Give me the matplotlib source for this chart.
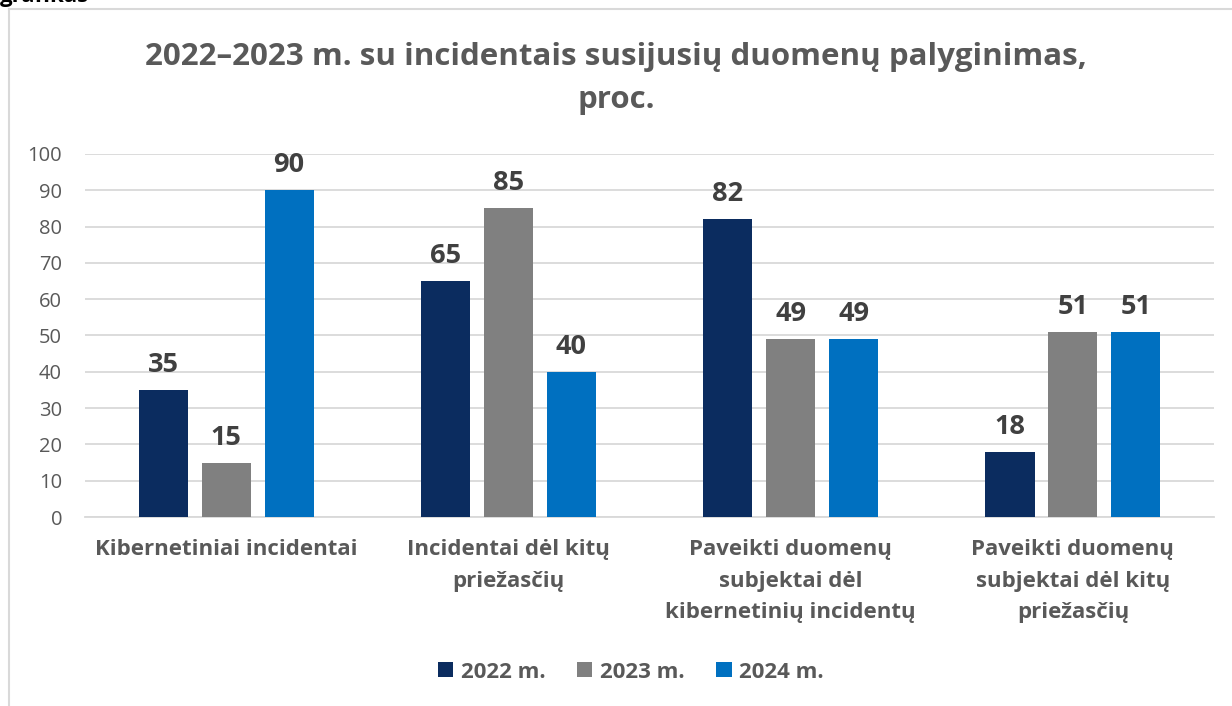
import matplotlib.pyplot as plt
import numpy as np

plt.rcParams['font.family'] = ['Open Sans', 'DejaVu Sans']

title_lines = ['2022–2023 m. su incidentais susijusių duomenų palyginimas,', 'proc.']
categories = ['Kibernetiniai incidentai', 'Incidentai dėl kitų\npriežasčių',
              'Paveikti duomenų\nsubjektai dėl\nkibernetinių incidentų',
              'Paveikti duomenų\nsubjektai dėl kitų\npriežasčių']
series_names = ['2022 m.', '2023 m.', '2024 m.']
values_2022 = [35, 65, 82, 18]
values_2023 = [15, 85, 49, 51]
values_2024 = [90, 40, 49, 51]
colors = ['#0B2C5F', '#808080', '#0070C0']

fig = plt.figure(figsize=(12.32, 7.06), dpi=100)
ax = fig.add_axes([0.069, 0.2677, 0.9164, 0.5142])

x = np.arange(len(categories))
width = 0.174
step = 0.223
all_vals = [values_2022, values_2023, values_2024]
handles = []
for i, vals in enumerate(all_vals):
    rects = ax.bar(x + (i - 1) * step, vals, width, color=colors[i], label=series_names[i], zorder=3)
    handles.append(rects)
    for r in rects:
        ax.text(r.get_x() + r.get_width() / 2, r.get_height() + 3.3, '%d' % r.get_height(),
                ha='center', va='bottom', fontsize=19.5, fontweight='bold', color='#404040')

ax.set_xlim(-0.5, len(categories) - 0.5)
ax.set_ylim(0, 100)
ax.set_yticks(range(0, 101, 10))
ax.grid(axis='y', color='#D9D9D9', linewidth=1.3, zorder=0)
for s in ['top', 'right', 'left']:
    ax.spines[s].set_visible(False)
ax.spines['bottom'].set_color('#D9D9D9')
ax.spines['bottom'].set_linewidth(1.3)
ax.tick_params(axis='y', length=0, labelsize=14.5, labelcolor='#595959', pad=16.5)
ax.tick_params(axis='x', length=0, pad=16)
ax.set_xticks(x)
ax.set_xticklabels(categories, fontsize=16, fontweight='bold', color='#595959', linespacing=1.65, va='top')

# title, two lines placed on their baselines
fig.text(0.5, 0.9079, title_lines[0], ha='center', va='baseline', fontsize=22.5,
         fontweight='bold', color='#595959')
fig.text(0.5, 0.847, title_lines[1], ha='center', va='baseline', fontsize=22.5,
         fontweight='bold', color='#595959')

fig.legend(handles=handles, labels=series_names, loc='center', bbox_to_anchor=(0.512, 0.048),
           ncol=3, frameon=False, handlelength=0.68, handleheight=0.68, handletextpad=0.32,
           columnspacing=1.45, prop={'family': 'Open Sans', 'weight': 'bold', 'size': 16})
for t in fig.legends[0].get_texts():
    t.set_color('#595959')

# chart border (top and left edge of frame)
fig.add_artist(plt.Line2D([0.0073, 1.0], [0.987, 0.987], color='#D9D9D9', linewidth=1.5))
fig.add_artist(plt.Line2D([0.0073, 0.0073], [0.0, 0.987], color='#D9D9D9', linewidth=1.5))
# caption above the chart, cut off by the top edge as in the source
fig.text(0.0, 0.997, 'grafikas', ha='left', va='baseline', fontsize=16, fontweight='bold', color='black')

fig.savefig('out.png', dpi=100)
